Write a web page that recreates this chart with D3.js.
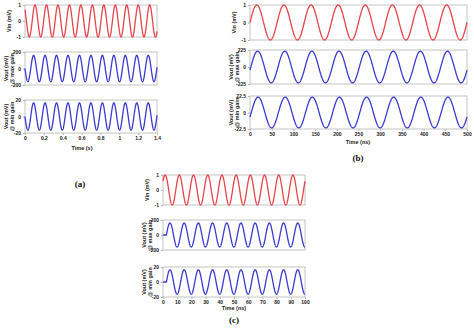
<!DOCTYPE html>
<html>
<head>
<meta charset="utf-8">
<script src="https://cdn.jsdelivr.net/npm/d3@7"></script>
<style>
  body { margin: 0; background: #fff; }
  svg { display: block; }
  .tick text { font-family: "Liberation Sans", Arial, sans-serif; font-weight: bold; font-size: 5px; fill: #222; }
  .ttl { font-family: "Liberation Sans", Arial, sans-serif; font-weight: bold; font-size: 5.5px; fill: #222; }
  .plab { font-family: "Liberation Serif", "DejaVu Serif", serif; font-weight: bold; font-size: 9px; fill: #111; }
</style>
</head>
<body>
<div id="chart"></div>
<script>
var W = 474, H = 333;
var red = '#e8444a';
var blue = '#3b3bd3';
var box_color = '#b4b4b4';

// data
var panel_labels = ['(a)', '(b)', '(c)'];
var time_titles = ['Time (s)', 'Time (ns)', 'Time (ns)'];
var time_max = [1.4, 500, 100];
var time_ticks = [
    [0, 0.2, 0.4, 0.6, 0.8, 1, 1.2, 1.4],
    [0, 50, 100, 150, 200, 250, 300, 350, 400, 450, 500],
    [0, 10, 20, 30, 40, 50, 60, 70, 80, 90, 100]
];
var row_titles = [['Vin (mV)'], ['Vout (mV)', '@ max gain'], ['Vout (mV)', '@ min gain']];
var y_limits = [[1, 200, 20], [1, 225, 22.5], [1, 200, 20]];   // symmetric +/- per row
var y_tick_labels = [
    [['1', '0', '-1'], ['200', '0', '-200'], ['20', '0', '-20']],
    [['1', '0', '-1'], ['225', '0', '-225'], ['22.5', '0', '-22.5']],
    [['1', '0', '-1'], ['200', '0', '-200'], ['20', '0', '-20']]
];
// sine waves: amplitude (mV), period, start phase (rad), start delay
var amplitudes = [[1, 160, 16.5], [1, 210, 21], [1, 160, 16.3]];
var periods = [0.1216, 62.5, 10];
var phases = [[2.36, Math.PI, Math.PI], [0, -0.2, -0.3], [0.63, 0, 0]];
var delays = [[0, 0, 0], [0, 0, 0], [0, 2.4, 2.4]];

// layout of each panel (pixels)
var layout = [
    {x0: 25, x1: 157, rows: [[5, 37], [52, 85], [100, 133]], titleY: 148, titleX: 82, labX: 80, labY: 184},
    {x0: 250, x1: 467, rows: [[5, 40], [50, 84], [96, 129]], titleY: 142, titleX: 358, labX: 358, labY: 158},
    {x0: 163, x1: 305, rows: [[175, 205], [220, 250], [267, 297]], titleY: 308, titleX: 234, labX: 234, labY: 320}
];

var svg = d3.select('#chart').append('svg')
    .attr('width', W)
    .attr('height', H);

layout.forEach(function(L, p){
    var x = d3.scaleLinear().domain([0, time_max[p]]).range([L.x0, L.x1]);
    var g = svg.append('g');

    L.rows.forEach(function(r, k){
        var lim = y_limits[p][k];
        var y = d3.scaleLinear().domain([-lim, lim]).range([r[1], r[0]]);

        // plot box
        g.append('rect')
            .attr('x', L.x0).attr('y', r[0])
            .attr('width', L.x1 - L.x0).attr('height', r[1] - r[0])
            .attr('fill', 'none')
            .attr('stroke', box_color)
            .attr('stroke-width', 0.8);

        // y axis with three labels
        var ya = d3.axisLeft(y)
            .tickValues([lim, 0, -lim])
            .tickSize(2)
            .tickPadding(2)
            .tickFormat(function(d, i){ return y_tick_labels[p][k][i]; });
        var yg = g.append('g').attr('transform', 'translate(' + L.x0 + ',0)').call(ya);
        yg.select('.domain').remove();
        yg.selectAll('.tick line').attr('stroke', box_color);

        // row title, rotated
        var tl = row_titles[k];
        var tx = L.x0 - 16;
        var t = g.append('text')
            .attr('class', 'ttl')
            .attr('text-anchor', 'middle')
            .attr('transform', 'translate(' + tx + ',' + ((r[0] + r[1]) / 2) + ') rotate(-90)');
        tl.forEach(function(s, j){
            t.append('tspan')
                .attr('x', 0)
                .attr('dy', j === 0 ? (tl.length > 1 ? -1 : 1.5) : 6)
                .text(s);
        });

        // sine trace
        var amp = amplitudes[p][k], per = periods[p], ph = phases[p][k], dl = delays[p][k];
        var n = 1400;
        var pts = d3.range(n + 1).map(function(i){
            var tt = time_max[p] * i / n;
            var v = tt < dl ? 0 : amp * Math.sin(2 * Math.PI * (tt - dl) / per + ph);
            return [tt, v];
        });
        var line = d3.line()
            .x(function(d){ return x(d[0]); })
            .y(function(d){ return y(d[1]); });
        g.append('path')
            .datum(pts)
            .attr('d', line)
            .attr('fill', 'none')
            .attr('stroke', k === 0 ? red : blue)
            .attr('stroke-width', 1.3);
    });

    // time axis under the last row
    var last = L.rows[2];
    var xa = d3.axisBottom(x)
        .tickValues(time_ticks[p])
        .tickSize(2)
        .tickPadding(1.5)
        .tickFormat(function(d){ return String(d); });
    var xg = g.append('g').attr('transform', 'translate(0,' + last[1] + ')').call(xa);
    xg.select('.domain').remove();
    xg.selectAll('.tick line').attr('stroke', box_color);

    g.append('text')
        .attr('class', 'ttl')
        .attr('x', L.titleX)
        .attr('y', L.titleY + 2)
        .attr('text-anchor', 'middle')
        .text(time_titles[p]);

    g.append('text')
        .attr('class', 'plab')
        .attr('x', L.labX)
        .attr('y', L.labY + 3)
        .attr('text-anchor', 'middle')
        .text(panel_labels[p]);
});
</script>
</body>
</html>
